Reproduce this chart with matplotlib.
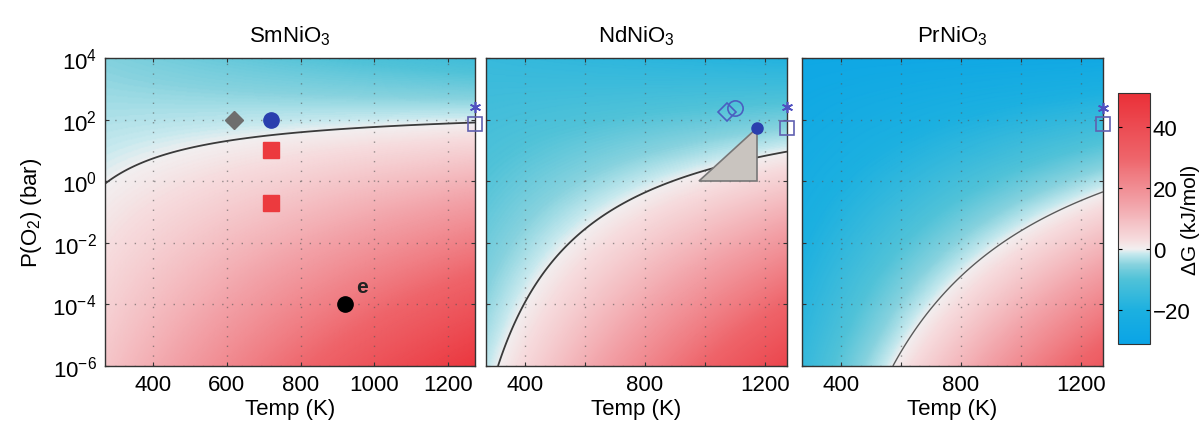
import numpy as np
import matplotlib
matplotlib.use("Agg")
import matplotlib.pyplot as plt
import matplotlib.colors as mcolors
from matplotlib.ticker import FixedLocator, NullLocator

plt.rcParams["font.family"] = ["Liberation Sans", "DejaVu Sans"]
plt.rcParams["mathtext.fontset"] = "custom"
plt.rcParams["mathtext.rm"] = "Liberation Sans"
plt.rcParams["mathtext.it"] = "Liberation Sans:italic"
plt.rcParams["axes.unicode_minus"] = True

# per-compound thermodynamics of RNiO3 <-> RNiO2.5 + 1/4 O2 (read from the dG=0 lines)
COMPOUNDS = ["SmNiO$_3$", "NdNiO$_3$", "PrNiO$_3$"]
DH_KJ = [-3.26, -13.65, -28.19]       # kJ/mol
DS_KJ = [-0.01168, -0.01532, -0.02049]  # kJ/mol/K
N_O2 = 0.25
R_KJ = 8.314e-3

T_MIN, T_MAX = 270, 1273
LOGP_MIN, LOGP_MAX = -6, 4
DG_MIN, DG_MAX = -31, 51

# markers (Temp K, P bar)
SM_DIAMOND = (620, 100)
SM_CIRCLE = (720, 100)
SM_SQUARES_T = [720, 720]
SM_SQUARES_P = [10, 0.2]
SM_E = (920, 1e-4)
ND_OPEN_DIAMOND = (1073, 180)
ND_OPEN_CIRCLE = (1100, 240)
ND_DOT = (1173, 54)
ND_TRIANGLE_T = [980, 1173, 1173]
ND_TRIANGLE_P = [1.0, 1.0, 54]
EDGE_SQUARE_P = [70, 55, 70]
EDGE_STAR_P = [250, 250, 230]

cmap = mcolors.LinearSegmentedColormap.from_list(
    "dg",
    [((v - DG_MIN) / (DG_MAX - DG_MIN), c) for v, c in [
        (-31, "#0aa4e6"), (-20, "#1cb0e0"), (-10, "#50c2d8"), (-5, "#86d2de"),
        (-1.5, "#c6e9ee"), (0, "#f2eff0"), (3, "#f6dcde"), (15, "#f2a2a8"),
        (30, "#ee646a"), (51, "#ea3038")]],
    N=256,
)
norm = mcolors.Normalize(DG_MIN, DG_MAX)

T = np.linspace(T_MIN, T_MAX, 300)
LOGP = np.linspace(LOGP_MIN, LOGP_MAX, 300)
TT, LL = np.meshgrid(T, LOGP)
PP = 10.0 ** LL

fig = plt.figure(figsize=(12.03, 4.31), dpi=100)
lefts = [105 / 1203, 486 / 1203, 802 / 1203]
widths = [370 / 1203, 301 / 1203, 301 / 1203]
bottom, height = 1 - 367 / 431, 308 / 431

axes = []
for i, name in enumerate(COMPOUNDS):
    ax = fig.add_axes([lefts[i], bottom, widths[i], height])
    axes.append(ax)
    dg = DH_KJ[i] - TT * DS_KJ[i] - N_O2 * R_KJ * TT * np.log(PP)
    ax.pcolormesh(TT, PP, dg, cmap=cmap, norm=norm, shading="gouraud", rasterized=True)
    ax.contour(TT, PP, dg, levels=[0], colors="#3a3a3a" if i < 2 else "#5a5a5a",
               linewidths=1.3 if i < 2 else 1.0)
    ax.set_yscale("log")
    ax.set_xlim(T_MIN, T_MAX)
    ax.set_ylim(10.0 ** LOGP_MIN, 10.0 ** LOGP_MAX)
    ax.yaxis.set_major_locator(FixedLocator([10.0 ** k for k in range(-6, 5, 2)]))
    ax.yaxis.set_minor_locator(NullLocator())
    ax.xaxis.set_major_locator(FixedLocator([400, 600, 800, 1000, 1200]))
    if i == 0:
        ax.set_xticklabels(["400", "600", "800", "1000", "1200"])
        ax.set_yticklabels([f"10$^{{{k}}}$" for k in range(-6, 5, 2)])
        ax.set_ylabel("P(O$_2$) (bar)", fontsize=16, labelpad=6)
    else:
        ax.set_xticklabels(["400", "", "800", "", "1200"])
        ax.set_yticklabels([])
    ax.grid(True, color="#555555", linestyle=(0, (1, 6)), linewidth=1.0, alpha=0.6)
    ax.tick_params(direction="in", top=True, right=True, labelsize=16, length=3,
                   color="#333333", pad=6)
    ax.set_xlabel("Temp (K)", fontsize=16, labelpad=2)
    ax.set_title(name, fontsize=16, pad=12)
    for s in ax.spines.values():
        s.set_edgecolor("#333333")
        s.set_linewidth(1.0)
    # right-edge open square and asterisk
    ax.plot([T_MAX], [EDGE_SQUARE_P[i]], "s", ms=10, mfc="none", mec="#6060b0",
            mew=1.2, clip_on=False, zorder=5)
    ax.plot([T_MAX], [EDGE_STAR_P[i]], marker=(6, 2, 0), ms=8, mec="#5050c0",
            mew=1.2, clip_on=False, zorder=5)

ax1, ax2, ax3 = axes
ax1.plot(*SM_DIAMOND, "D", ms=9, color="#6e6e6e", zorder=5)
ax1.plot(*SM_CIRCLE, "o", ms=11, color="#2a3fae", zorder=5)
ax1.plot(SM_SQUARES_T, SM_SQUARES_P, "s", ms=11, color="#ec3a3e", lw=0, zorder=5)
ax1.plot(*SM_E, "o", ms=11, color="black", zorder=5)
ax1.annotate("e", SM_E, xytext=(8, 9), textcoords="offset points", fontsize=15,
             fontweight="bold", color="#222222")

ax2.fill(ND_TRIANGLE_T, ND_TRIANGLE_P, facecolor="#c9c4bf", edgecolor="#777777",
         linewidth=1.2, zorder=4)
ax2.plot(*ND_OPEN_DIAMOND, "D", ms=9, mfc="none", mec="#4a5fc0", mew=1.2, zorder=5)
ax2.plot(*ND_OPEN_CIRCLE, "o", ms=11, mfc="none", mec="#4a5fc0", mew=1.2, zorder=5)
ax2.plot(*ND_DOT, "o", ms=8, color="#2a3fae", zorder=5)

cax = fig.add_axes([1118 / 1203, 1 - 345 / 431, 32 / 1203, 251 / 431])
sm = plt.cm.ScalarMappable(norm=norm, cmap=cmap)
cb = fig.colorbar(sm, cax=cax, ticks=[-20, 0, 20, 40])
cb.ax.tick_params(labelsize=16, direction="in", length=3, left=True, right=True, pad=2)
cb.set_label("ΔG (kJ/mol)", fontsize=15, labelpad=-7)
cb.outline.set_edgecolor("#333333")

fig.savefig("out.png", dpi=100)
